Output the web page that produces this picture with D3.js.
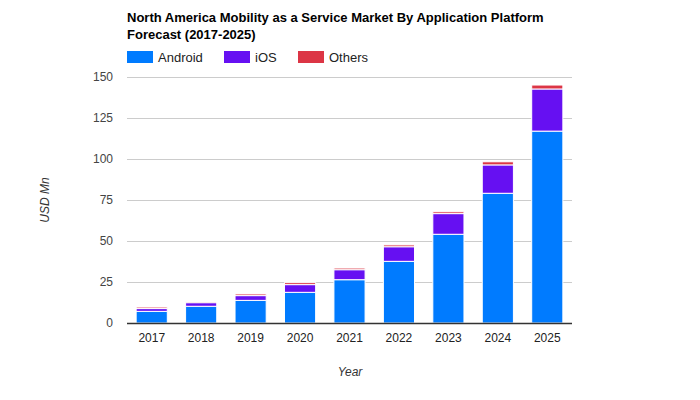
<!DOCTYPE html>
<html><head><meta charset="utf-8">
<script src="https://cdn.jsdelivr.net/npm/d3@7"></script>
<style>body{margin:0;background:#fff;}svg{display:block;font-family:Arial,"Liberation Sans",sans-serif;}</style>
</head><body><svg id="chart" width="700" height="400"></svg>
<script>
const years = ["2017","2018","2019","2020","2021","2022","2023","2024","2025"];
const android = [7.1, 10.2, 13.8, 18.7, 26.4, 37.6, 54.1, 79.1, 117.0];
const ios = [1.7, 2.2, 2.9, 4.7, 6.1, 8.9, 12.6, 17.3, 25.7];
const others = [0.9, 0.7, 1.0, 1.2, 1.0, 1.1, 1.1, 1.9, 2.4];
const seriesNames = ["Android","iOS","Others"];
const colors = ["#007bff","#6610f2","#dc3545"];
const yTicks = [0,25,50,75,100,125,150];

const svg = d3.select("#chart");
const L=127, R=572, T=77, B=323;
const x = d3.scaleBand().domain(years).range([L,R]).paddingInner(0.37).paddingOuter(0.185);
const y = d3.scaleLinear().domain([0,150]).range([B,T]);

// title
svg.append("text").attr("x",L).attr("y",22).attr("font-size",13).attr("font-weight","bold").attr("fill","#000")
  .text("North America Mobility as a Service Market By Application Platform");
svg.append("text").attr("x",L).attr("y",39).attr("font-size",13).attr("font-weight","bold").attr("fill","#000")
  .text("Forecast (2017-2025)");

// legend
const legX = [127, 224, 298];
seriesNames.forEach((n,i)=>{
  svg.append("rect").attr("x",legX[i]).attr("y",51).attr("width",26).attr("height",12).attr("fill",colors[i]);
  svg.append("text").attr("x",legX[i]+31).attr("y",61.5).attr("font-size",13).attr("fill","#222").text(n);
});

// grid
svg.append("g").selectAll("line").data(yTicks.filter(d=>d>0)).join("line")
  .attr("x1",L).attr("x2",R).attr("y1",d=>Math.round(y(d))+0.5).attr("y2",d=>Math.round(y(d))+0.5)
  .attr("stroke","#cccccc").attr("stroke-width",1);

// y axis labels
const yAxis = d3.axisLeft(y).tickValues(yTicks).tickSize(0).tickPadding(14);
const ya = svg.append("g").attr("transform",`translate(${L},0)`).call(yAxis);
ya.select(".domain").remove();
ya.selectAll("text").attr("font-size",12).attr("fill","#444").attr("font-family","Arial, 'Liberation Sans', sans-serif");

// stacked bars
const table = years.map((yr,i)=>({year:yr, Android:android[i], iOS:ios[i], Others:others[i]}));
const stack = d3.stack().keys(seriesNames)(table);
svg.append("g").selectAll("g").data(stack).join("g").attr("fill",(d,i)=>colors[i])
  .selectAll("rect").data(d=>d).join("rect")
  .attr("x",d=>x(d.data.year)).attr("width",x.bandwidth())
  .attr("y",d=>y(d[1])).attr("height",d=>y(d[0])-y(d[1]))
  .attr("stroke","#fff").attr("stroke-width",1);

// baseline
svg.append("line").attr("x1",L).attr("x2",R).attr("y1",323.5).attr("y2",323.5).attr("stroke","#333").attr("stroke-width",1.5);

// x axis labels
const xAxis = d3.axisBottom(x).tickSize(0).tickPadding(10);
const xa = svg.append("g").attr("transform",`translate(0,${B})`).call(xAxis);
xa.select(".domain").remove();
xa.selectAll("text").attr("font-size",12).attr("fill","#222").attr("font-family","Arial, 'Liberation Sans', sans-serif");

// axis titles
svg.append("text").attr("x",350).attr("y",376).attr("text-anchor","middle").attr("font-size",12)
  .attr("font-style","italic").attr("fill","#333").text("Year");
svg.append("text").attr("transform","translate(49,200) rotate(-90)").attr("text-anchor","middle").attr("font-size",12)
  .attr("font-style","italic").attr("fill","#333").text("USD Mn");
</script></body></html>
